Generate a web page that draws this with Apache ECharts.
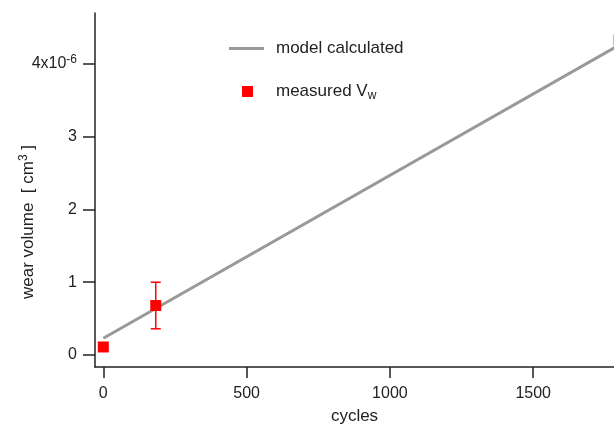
<!DOCTYPE html>
<html><head><meta charset="utf-8">
<script src="https://cdn.jsdelivr.net/npm/echarts@6/dist/echarts.min.js"></script>
<style>html,body{margin:0;padding:0;background:#fff}#c{width:614px;height:427px}</style>
</head><body><div id="c"></div>
<script>
var modelX = [0, 1800];
var modelY = [0.23, 4.26];
var measX = [0, 183, 1800];
var measY = [0.11, 0.68, 4.33];
var errLow = [null, 0.36, 4.03];
var errHigh = [null, 1.00, 4.57];
var yTicks = [0, 1, 2, 3, 4];
var xTicks = [0, 500, 1000, 1500];

var F = 'Liberation Sans, Arial, sans-serif';
var chart = echarts.init(document.getElementById('c'));
var modelData = modelX.map(function(x,i){return [x, modelY[i]];});
var measData = measX.map(function(x,i){return [x, measY[i]];});
var errData = measX.map(function(x,i){return [x, errLow[i], errHigh[i]];}).filter(function(d){return d[1]!==null;});

chart.setOption({
  animation:false,
  grid:{left:95, top:13, right:0, bottom:60, containLabel:false, outerBoundsMode:'none'},
  legend:[
    {data:['model calculated'], left:229, top:40, padding:0, icon:'rect', itemWidth:35, itemHeight:3,
     textStyle:{fontFamily:F, fontSize:17, color:'#222', padding:[0,0,0,7]}},
    {data:['measured Vw'], left:242, top:83, padding:0, icon:'rect', itemWidth:11, itemHeight:11,
     formatter:function(){return 'measured V{sub|w}';},
     textStyle:{fontFamily:F, fontSize:17, color:'#222', padding:[0,0,0,18],
       rich:{sub:{fontFamily:F, fontSize:12, verticalAlign:'bottom', padding:[8,0,0,0], color:'#222'}}}}
  ],
  xAxis:{type:'value', min:-29, max:1782,
    name:'cycles', nameLocation:'middle', nameGap:41, nameMoveOverlap:false,
    nameTextStyle:{fontFamily:F, fontSize:17, color:'#222'},
    axisLine:{show:true, onZero:false, lineStyle:{color:'#222', width:1.5}},
    axisTick:{show:true, length:11, lineStyle:{color:'#222', width:1.5}, customValues:xTicks},
    axisLabel:{fontFamily:F, fontSize:16, color:'#222', margin:19, customValues:xTicks,
      formatter:function(v){return String(v);}},
    splitLine:{show:false}},
  yAxis:{type:'value', min:-0.165, max:4.70,
    name:'wear volume  [ cm{sup|3} ]', nameLocation:'middle', nameGap:57, nameMoveOverlap:false,
    nameTextStyle:{fontFamily:F, fontSize:17, color:'#222', padding:[0,64,0,0],
      rich:{sup:{fontFamily:F, fontSize:12, verticalAlign:'top', padding:[0,0,8,0], color:'#222'}}},
    axisLine:{show:true, onZero:false, lineStyle:{color:'#222', width:1.5}},
    axisTick:{show:true, length:12, lineStyle:{color:'#222', width:1.5}, customValues:yTicks},
    axisLabel:{fontFamily:F, fontSize:16, color:'#222', margin:18, customValues:yTicks,
      formatter:function(v){return v===4 ? '4x10{sup|-6}' : String(v);},
      rich:{sup:{fontFamily:F, fontSize:12, verticalAlign:'top', padding:[0,0,8,0], color:'#222'}}},
    splitLine:{show:false}},
  series:[
    {name:'model calculated', type:'line', data:modelData, showSymbol:false, symbol:'none',
     lineStyle:{color:'#999', width:3}, itemStyle:{color:'#999'}, clip:true, z:2},
    {name:'measured Vw', type:'scatter', data:measData, symbol:'rect', symbolSize:11,
     itemStyle:{color:'#f00', opacity:1}, clip:false, z:4},
    {type:'custom', data:errData, clip:false, z:3,
     renderItem:function(params, api){
       var x = api.value(0);
       var lo = api.coord([x, api.value(1)]);
       var hi = api.coord([x, api.value(2)]);
       var w = 5;
       var st = {stroke:'#f00', lineWidth:1.5};
       return {type:'group', children:[
         {type:'line', shape:{x1:lo[0], y1:lo[1], x2:hi[0], y2:hi[1]}, style:st},
         {type:'line', shape:{x1:lo[0]-w, y1:lo[1], x2:lo[0]+w, y2:lo[1]}, style:st},
         {type:'line', shape:{x1:hi[0]-w, y1:hi[1], x2:hi[0]+w, y2:hi[1]}, style:st}
       ]};
     }}
  ]
});
</script></body></html>
